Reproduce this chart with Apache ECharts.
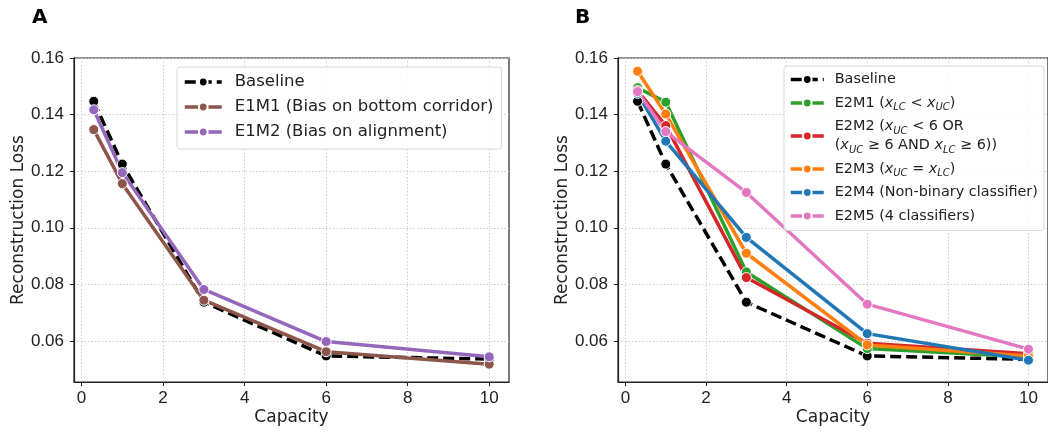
<!DOCTYPE html>
<html><head><meta charset="utf-8">
<script src="https://cdn.jsdelivr.net/npm/echarts@6/dist/echarts.min.js"></script>
<style>html,body{margin:0;padding:0;background:#fff}#c{width:1048px;height:435px}</style>
</head><body><div id="c"></div>
<script>
const capacity = [0.3, 1, 3, 6, 10];
const xTicks = [0, 2, 4, 6, 8, 10];
const yTicks = [0.06, 0.08, 0.10, 0.12, 0.14, 0.16];

// Panel A
const leftNames = ['Baseline', 'E1M1 (Bias on bottom corridor)', 'E1M2 (Bias on alignment)'];
const baselineA = [0.1447, 0.1225, 0.0737, 0.0547, 0.0536];
const e1m1 = [0.1347, 0.1156, 0.0744, 0.0562, 0.0518];
const e1m2 = [0.1417, 0.1195, 0.0782, 0.0598, 0.0544];

// Panel B
const rightNames = ['Baseline ', 'E2M1 (x_LC < x_UC)', 'E2M2 (x_UC < 6 OR\n(x_UC ≥ 6 AND x_LC ≥ 6))',
  'E2M3 (x_UC = x_LC)', 'E2M4 (Non-binary classifier)', 'E2M5 (4 classifiers)'];
const baselineB = [0.1447, 0.1225, 0.0737, 0.0547, 0.0535];
const e2m1 = [0.1495, 0.1444, 0.0844, 0.0573, 0.0543];
const e2m2 = [0.1485, 0.1361, 0.0824, 0.0592, 0.0555];
const e2m3 = [0.1553, 0.1402, 0.0910, 0.0586, 0.0547];
const e2m4 = [0.1475, 0.1306, 0.0966, 0.0626, 0.0532];
const e2m5 = [0.1481, 0.1340, 0.1125, 0.0730, 0.0571];

const FONT = 'DejaVu Sans';
const NUMFONT = 'Liberation Sans';
const pairs = arr => capacity.map((c, i) => [c, arr[i]]);

function mkX(gi) {
  return {
    type: 'value', gridIndex: gi, min: -0.185, max: 10.485,
    name: 'Capacity', nameLocation: 'middle', nameGap: 27, nameMoveOverlap: false,
    nameTextStyle: {fontFamily: FONT, fontSize: 17, color: '#222'},
    axisLine: {show: true, onZero: false, lineStyle: {color: '#222', width: 1.2}},
    axisTick: {show: true, length: 4, customValues: xTicks, lineStyle: {color: '#222'}},
    axisLabel: {customValues: xTicks, margin: 8, fontFamily: NUMFONT, fontSize: 17, color: '#222'},
    splitLine: {show: true, lineStyle: {type: [1.5, 2], color: '#cccccc', width: 1}}
  };
}
function mkY(gi) {
  return {
    type: 'value', gridIndex: gi, min: 0.0455, max: 0.16,
    name: 'Reconstruction Loss', nameLocation: 'middle', nameGap: 47, nameMoveOverlap: false,
    nameTextStyle: {fontFamily: FONT, fontSize: 17, color: '#222'},
    axisLine: {show: true, onZero: false, lineStyle: {color: '#222', width: 1.2}},
    axisTick: {show: true, length: 4, customValues: yTicks, lineStyle: {color: '#222'}},
    axisLabel: {customValues: yTicks, margin: 10, fontFamily: NUMFONT, fontSize: 17, color: '#222',
      formatter: v => v.toFixed(2)},
    splitLine: {show: true, lineStyle: {type: [1.5, 2], color: '#cccccc', width: 1}}
  };
}
function mkS(name, arr, color, gi, dashed) {
  return {
    name: name, type: 'line', xAxisIndex: gi, yAxisIndex: gi, data: pairs(arr),
    symbol: 'circle', symbolSize: 10, showSymbol: true,
    lineStyle: {color: color, width: 3.5, type: dashed ? [11, 5] : 'solid'},
    itemStyle: {color: color, borderColor: '#fff', borderWidth: 1},
    emphasis: {disabled: true}, animation: false
  };
}
const richFmt = name => name.replace(/x_([A-Z]+)/g, '{i|x}{s|$1}');

const chart = echarts.init(document.getElementById('c'), null, {renderer: 'canvas'});
chart.setOption({
  backgroundColor: '#fff',
  animation: false,
  title: [
    {text: 'A', left: 32, top: 8, padding: 0, textStyle: {fontFamily: FONT, fontSize: 20, fontWeight: 'bold', color: '#000'}},
    {text: 'B', left: 575, top: 8, padding: 0, textStyle: {fontFamily: FONT, fontSize: 20, fontWeight: 'bold', color: '#000'}}
  ],
  grid: [
    {left: 74, top: 58, width: 435, height: 324, show: true, borderColor: '#222', borderWidth: 1.2, containLabel: false},
    {left: 618, top: 58, width: 434, height: 324, show: true, borderColor: '#222', borderWidth: 1.2, containLabel: false}
  ],
  xAxis: [mkX(0), mkX(1)],
  yAxis: [mkY(0), mkY(1)],
  legend: [
    {
      data: leftNames, orient: 'vertical', left: 177, top: 67,
      itemWidth: 37, itemHeight: 11, itemGap: 5,
      padding: [5, 8, 7, 6],
      lineStyle: {width: 3.5},
      backgroundColor: 'rgba(255,255,255,0.85)', borderColor: '#d8d8d8', borderWidth: 1, borderRadius: 3,
      textStyle: {fontFamily: FONT, fontSize: 16.5, color: '#222', lineHeight: 20, padding: [0, 0, 0, 8]},
      selectedMode: false
    },
    {
      data: rightNames, orient: 'vertical', left: 784, top: 66,
      itemWidth: 33, itemHeight: 11, itemGap: 4.5,
      padding: [4, 6, 5, 5],
      lineStyle: {width: 3.5},
      backgroundColor: 'rgba(255,255,255,0.85)', borderColor: '#d8d8d8', borderWidth: 1, borderRadius: 3,
      formatter: richFmt,
      textStyle: {fontFamily: FONT, fontSize: 14.4, color: '#222', lineHeight: 19, padding: [0, 0, 0, 6],
        rich: {
          i: {fontFamily: FONT, fontSize: 14.4, fontStyle: 'italic', color: '#222', lineHeight: 19},
          s: {fontFamily: FONT, fontSize: 10, fontStyle: 'italic', color: '#222', lineHeight: 10, verticalAlign: 'bottom'}
        }},
      selectedMode: false
    }
  ],
  series: [
    mkS(leftNames[0], baselineA, '#000000', 0, true),
    mkS(leftNames[1], e1m1, '#8c564b', 0, false),
    mkS(leftNames[2], e1m2, '#9467bd', 0, false),
    mkS(rightNames[0], baselineB, '#000000', 1, true),
    mkS(rightNames[1], e2m1, '#2ca02c', 1, false),
    mkS(rightNames[2], e2m2, '#d62728', 1, false),
    mkS(rightNames[3], e2m3, '#ff7f0e', 1, false),
    mkS(rightNames[4], e2m4, '#1f77b4', 1, false),
    mkS(rightNames[5], e2m5, '#e377c2', 1, false)
  ]
});
</script></body></html>
